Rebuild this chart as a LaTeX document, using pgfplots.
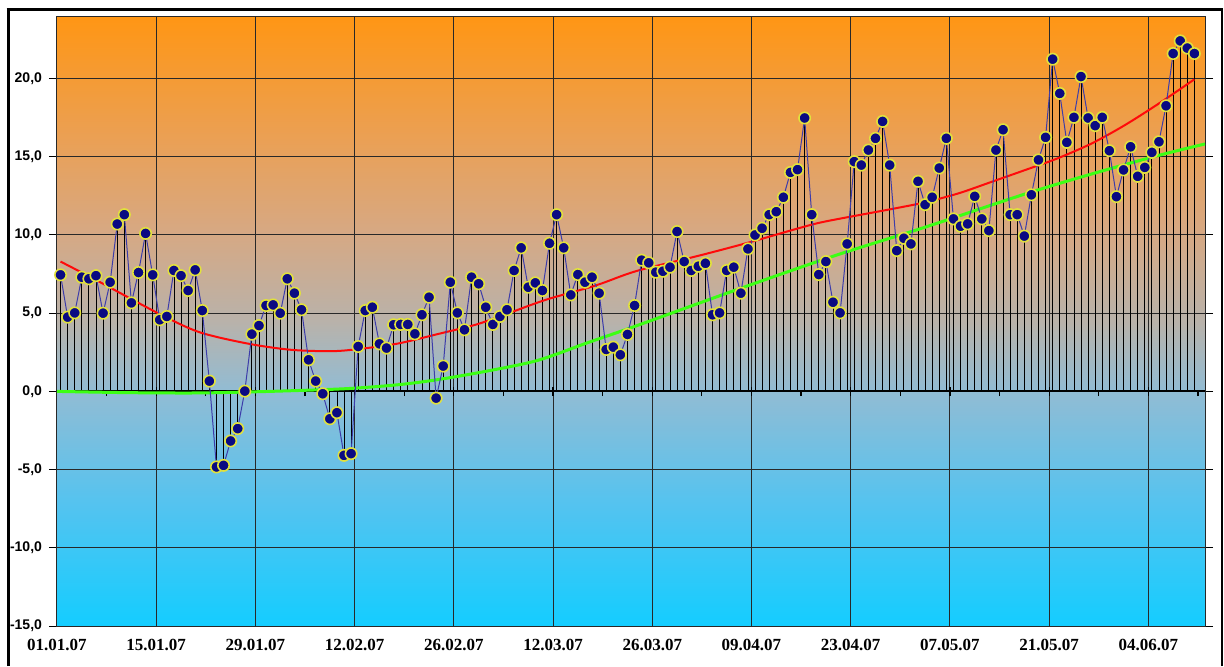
\documentclass[border=0pt]{standalone}
\usepackage{fontspec}
\setmainfont{Liberation Serif}
\newfontfamily\arialfont{Liberation Sans}
\usepackage{pgfplots}
\pgfplotsset{compat=1.18}
\usepackage{pgfplotstable}

\definecolor{mknavy}{RGB}{10,10,130}
\definecolor{mkyellow}{RGB}{225,225,60}
\definecolor{linblue}{RGB}{60,60,170}
\definecolor{trendgreen}{RGB}{60,255,20}
\definecolor{trendred}{RGB}{255,10,10}
\definecolor{griddark}{RGB}{40,40,40}

\pgfdeclareverticalshading{bgshade}{100bp}{%
 rgb(0bp)=(0.078,0.804,1.0);
 rgb(25bp)=(0.078,0.804,1.0);
 rgb(35bp)=(0.33,0.765,0.94);
 rgb(44.25bp)=(0.57,0.737,0.83);
 rgb(50bp)=(0.725,0.698,0.667);
 rgb(57.5bp)=(0.843,0.659,0.51);
 rgb(65bp)=(0.92,0.627,0.33);
 rgb(75bp)=(1.0,0.588,0.078);
 rgb(100bp)=(1.0,0.588,0.078)}

\pgfplotstableread{
x y
0.5 7.45
1.5 4.75
2.5 5.02
3.5 7.3
4.5 7.2
5.5 7.4
6.5 5.0
7.5 6.98
8.5 10.7
9.5 11.3
10.5 5.66
11.5 7.6
12.5 10.1
13.5 7.45
14.5 4.58
15.5 4.79
16.5 7.73
17.5 7.4
18.5 6.45
19.5 7.77
20.5 5.17
21.5 0.66
22.5 -4.83
23.5 -4.73
24.5 -3.17
25.5 -2.38
26.5 0.02
27.5 3.66
28.5 4.21
29.5 5.49
30.5 5.53
31.5 5.0
32.5 7.2
33.5 6.28
34.5 5.22
35.5 2.02
36.5 0.66
37.5 -0.15
38.5 -1.75
39.5 -1.36
40.5 -4.09
41.5 -3.98
42.5 2.87
43.5 5.17
44.5 5.38
45.5 3.04
46.5 2.77
47.5 4.26
48.5 4.28
49.5 4.28
50.5 3.68
51.5 4.9
52.5 6.02
53.5 -0.43
54.5 1.62
55.5 6.98
56.5 5.02
57.5 3.94
58.5 7.3
59.5 6.88
60.5 5.38
61.5 4.28
62.5 4.79
63.5 5.22
64.5 7.73
65.5 9.18
66.5 6.66
67.5 6.94
68.5 6.45
69.5 9.47
70.5 11.3
71.5 9.18
72.5 6.17
73.5 7.47
74.5 6.98
75.5 7.3
76.5 6.28
77.5 2.68
78.5 2.83
79.5 2.34
80.5 3.64
81.5 5.49
82.5 8.39
83.5 8.22
84.5 7.62
85.5 7.68
86.5 7.94
87.5 10.22
88.5 8.3
89.5 7.73
90.5 8.0
91.5 8.19
92.5 4.9
93.5 5.02
94.5 7.73
95.5 7.94
96.5 6.28
97.5 9.11
98.5 10.0
99.5 10.43
100.5 11.3
101.5 11.49
102.5 12.41
103.5 14.0
104.5 14.18
105.5 17.48
106.5 11.3
107.5 7.47
108.5 8.3
109.5 5.7
110.5 5.02
111.5 9.43
112.5 14.69
113.5 14.47
114.5 15.43
115.5 16.18
116.5 17.26
117.5 14.47
118.5 9.0
119.5 9.79
120.5 9.43
121.5 13.43
122.5 11.94
123.5 12.41
124.5 14.28
125.5 16.18
126.5 11.03
127.5 10.56
128.5 10.71
129.5 12.47
130.5 11.03
131.5 10.28
132.5 15.43
133.5 16.73
134.5 11.3
135.5 11.3
136.5 9.93
137.5 12.57
138.5 14.8
139.5 16.24
140.5 21.24
141.5 19.05
142.5 15.92
143.5 17.52
144.5 20.13
145.5 17.48
146.5 16.99
147.5 17.52
148.5 15.39
149.5 12.45
150.5 14.16
151.5 15.64
152.5 13.75
153.5 14.32
154.5 15.28
155.5 15.96
156.5 18.26
157.5 21.6
158.5 22.41
159.5 21.95
160.5 21.6
}\temps

\begin{document}
\begin{tikzpicture}[x=1pt,y=1pt]
\useasboundingbox (0,0) rectangle (612,333);
\begin{axis}[
  at={(28.5pt,20pt)}, anchor=south west,
  scale only axis, width=574pt, height=305pt,
  xmin=0, xmax=162, ymin=-15, ymax=24,
  xtick={0,14,...,154},
  xticklabels={01.01.07,15.01.07,29.01.07,12.02.07,26.02.07,12.03.07,26.03.07,09.04.07,23.04.07,07.05.07,21.05.07,04.06.07},
  ytick={-15,-10,...,20},
  /pgf/number format/.cd, fixed, fixed zerofill, precision=1, use comma, assume math mode=true,
  /pgfplots/.cd,
  grid=major,
  major grid style={griddark, line width=0.5pt},
  axis line style={griddark, line width=0.5pt},
  tick align=outside,
  major tick length=4pt,
  xtick style={draw=none},
  ytick style={black, line width=0.5pt},
  xticklabel style={font=\fontsize{8.5}{10}\selectfont\bfseries, yshift=1pt},
  yticklabel style={font=\fontsize{7}{8}\selectfont\arialfont\bfseries},
  axis background/.style={shading=bgshade},
]
\addplot[ycomb, black, line width=0.4pt, no marks] table {\temps};
\draw[black, line width=1pt] (axis cs:0,0) -- (axis cs:162,0);
\pgfplotsinvokeforeach{14,28,...,154}{\draw[black, line width=0.6pt] (axis cs:#1,-0.3) -- (axis cs:#1,0.3);}
\pgfplotsinvokeforeach{7,21,...,161}{\draw[black, line width=0.6pt] (axis cs:#1,-0.3) -- (axis cs:#1,0.1);}
\addplot[trendred, line width=1pt, smooth, no marks] coordinates {
 (0.5,8.3) (5.6,7.1) (14,5.06) (20,3.8) (27,3.05) (33,2.66) (38.5,2.57) (42,2.68)
 (48,3.05) (54.5,3.75) (59.2,4.28) (63.5,4.96) (69,5.86) (76,6.77) (81.8,7.7)
 (90.6,8.68) (97.7,9.53) (104.8,10.45) (108.5,10.87) (117.9,11.67) (122.5,12.09)
 (127.2,12.66) (131.9,13.4) (136.6,14.15) (141.2,14.9) (146,15.85) (150.6,17.0)
 (155.3,18.35) (160.5,19.95)
};
\addplot[trendgreen, line width=1.5pt, smooth, no marks] coordinates {
 (0,0) (10,-0.08) (20,-0.1) (30,0.0) (40.6,0.17) (48,0.42) (53.7,0.75) (60.7,1.3)
 (67.8,1.98) (74.8,3.1) (81.8,4.2) (95.9,6.5) (109.9,8.7) (122.5,10.5) (136.6,12.62)
 (146,13.9) (155.3,15.07) (162,15.82)
};
\addplot[linblue, line width=0.5pt, mark=*, mark size=2.85pt,
  mark options={fill=mknavy, draw=mkyellow, line width=0.8pt, solid}] table {\temps};
\end{axis}
\draw[black, line width=1.5pt] (4,0) -- (4,328.9);
\draw[black, line width=1.3pt] (3.25,328.2) -- (611.6,328.2);
\draw[black, line width=1.1pt] (611.1,0) -- (611.1,328.9);
\end{tikzpicture}
\end{document}
